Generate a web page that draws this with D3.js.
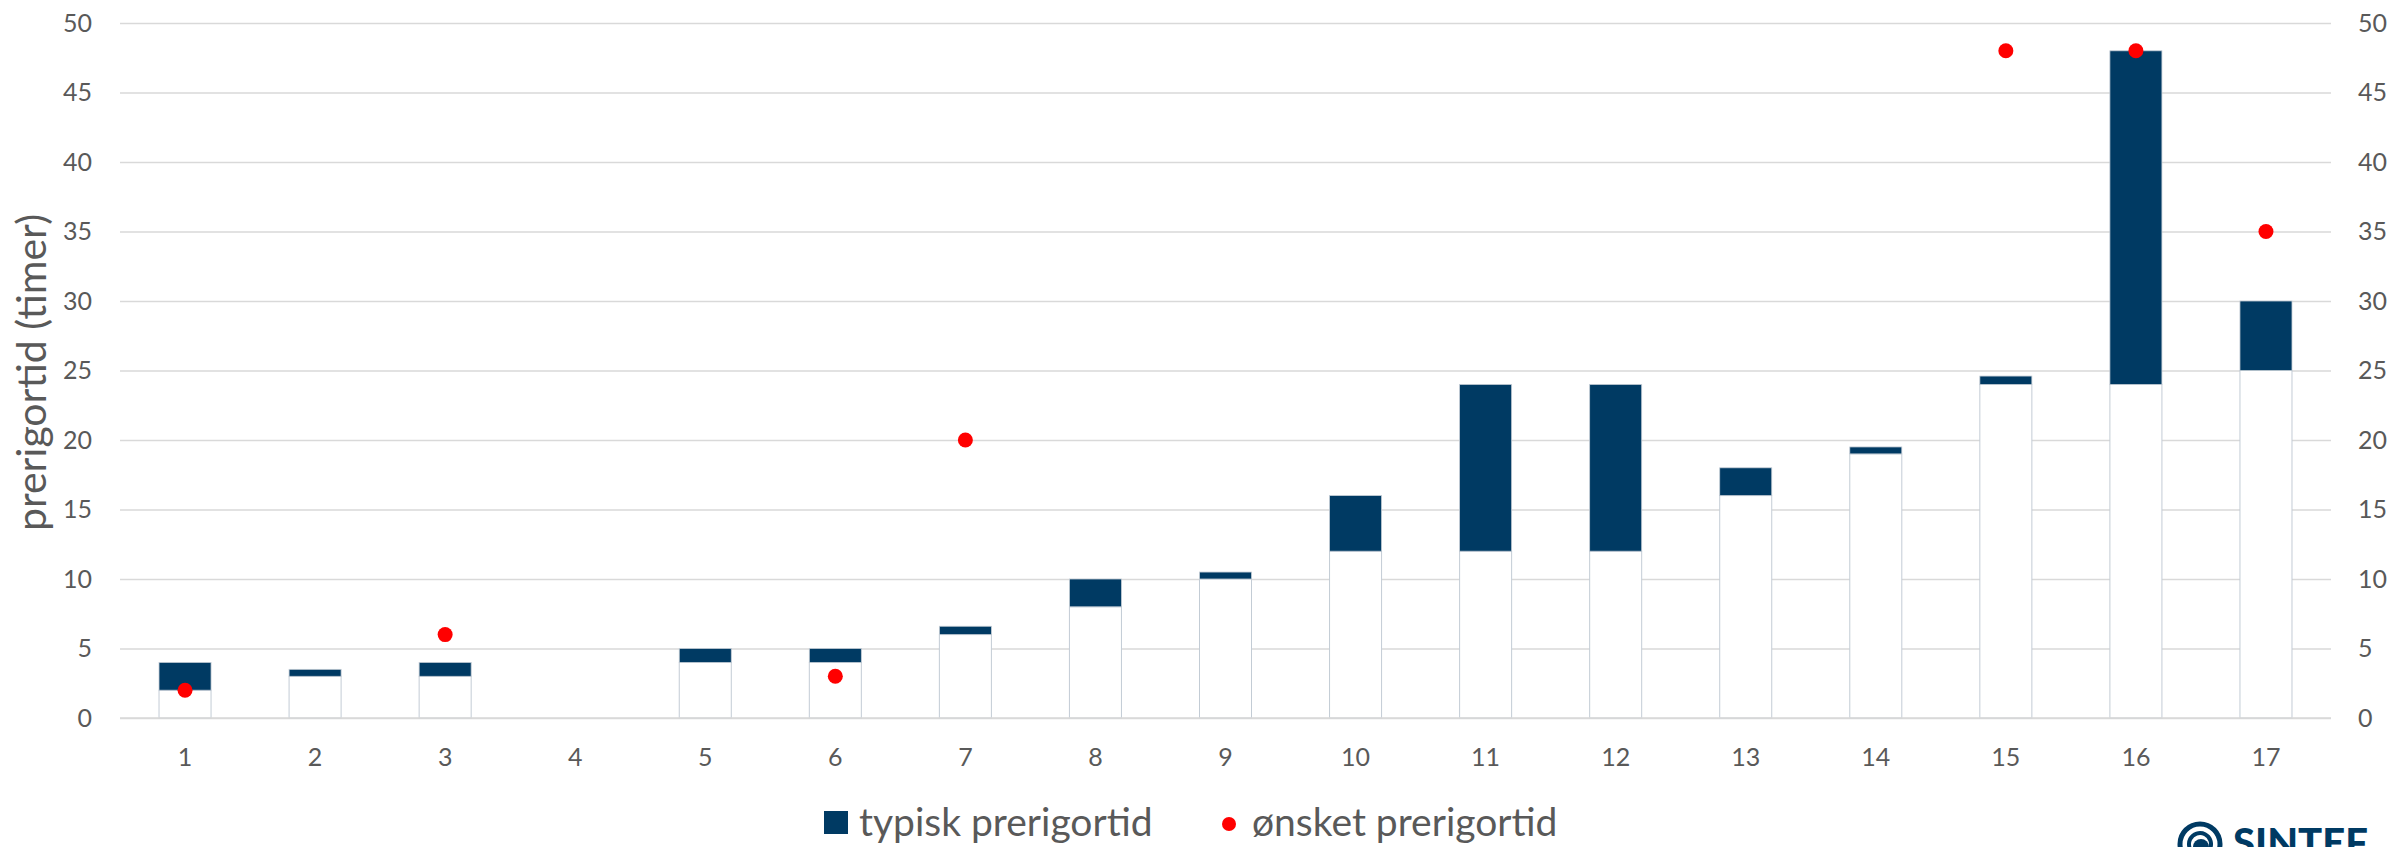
<!DOCTYPE html>
<html>
<head>
<meta charset="utf-8">
<script src="https://cdn.jsdelivr.net/npm/d3@7"></script>
<style>
  html, body { margin: 0; padding: 0; background: #fff; overflow: hidden; }
  svg { display: block; }
  text { font-family: Lato, "Open Sans", sans-serif; }
</style>
</head>
<body>
<svg id="chart" width="2392" height="847"></svg>
<script>
// ---- data ----
const categories = ["1","2","3","4","5","6","7","8","9","10","11","12","13","14","15","16","17"];
// invisible base (start of typical pre-rigor time)
const baseValues = [2, 3, 3, 0, 4, 4, 6, 8, 10, 12, 12, 12, 16, 19, 24, 24, 25];
// typical pre-rigor time span (stacked on base)
const typiskValues = [2, 0.5, 1, 0, 1, 1, 0.6, 2, 0.5, 4, 12, 12, 2, 0.5, 0.6, 24, 5];
// desired pre-rigor time
const onsketValues = [2, null, 6, null, null, 3, 20, null, null, null, null, null, null, null, 48, 48, 35];
const yTicks = [0, 5, 10, 15, 20, 25, 30, 35, 40, 45, 50];
const seriesNames = ["typisk prerigortid", "ønsket prerigortid"];
const yTitle = "prerigortid (timer)";

// ---- layout ----
const pLeft = 120, pRight = 2331, pTop = 23, pBottom = 718;
const navy = "#003A63", red = "#FF0000", grid = "#D9D9D9", txt = "#595959", edge = "#C3CCD5";

const svg = d3.select("#chart");
const x = d3.scaleBand().domain(categories).range([pLeft, pRight]).paddingInner(0.6).paddingOuter(0.3);
const y = d3.scaleLinear().domain([0, 50]).range([pBottom, pTop]);

// gridlines
const gridG = svg.append("g").attr("transform", `translate(${pLeft},0)`)
  .call(d3.axisLeft(y).tickValues(yTicks).tickSize(-(pRight - pLeft)).tickFormat(""));
gridG.select(".domain").remove();
gridG.selectAll("line").attr("stroke", grid).attr("stroke-width", 1.5);

const rows = categories.map((c, i) => ({ c, base: baseValues[i], span: typiskValues[i] }));

// base bars (white with light edge)
svg.append("g").selectAll("rect").data(rows.filter(d => d.base > 0)).join("rect")
  .attr("x", d => x(d.c))
  .attr("width", x.bandwidth())
  .attr("y", d => y(d.base))
  .attr("height", d => y(0) - y(d.base))
  .attr("fill", "#fff").attr("stroke", edge).attr("stroke-width", 1);

// typical bars
svg.append("g").selectAll("rect").data(rows.filter(d => d.span > 0)).join("rect")
  .attr("x", d => x(d.c))
  .attr("width", x.bandwidth())
  .attr("y", d => y(d.base + d.span))
  .attr("height", d => y(d.base) - y(d.base + d.span))
  .attr("fill", navy).attr("stroke", edge).attr("stroke-width", 0.8);

// baseline redraw
svg.append("line").attr("x1", pLeft).attr("x2", pRight).attr("y1", y(0)).attr("y2", y(0))
  .attr("stroke", grid).attr("stroke-width", 1.5);

// desired points
const pts = categories.map((c, i) => ({ c, v: onsketValues[i] })).filter(d => d.v != null);
svg.append("g").selectAll("circle").data(pts).join("circle")
  .attr("cx", d => x(d.c) + x.bandwidth() / 2)
  .attr("cy", d => y(d.v))
  .attr("r", 7.5)
  .attr("fill", red);

// axes
function styleAxis(g) {
  g.select(".domain").remove();
  g.selectAll("line").remove();
  g.selectAll("text").attr("fill", txt).style("font-size", "25px").style("font-family", "Lato, sans-serif");
}
svg.append("g").attr("transform", `translate(${pLeft},0)`)
  .call(d3.axisLeft(y).tickValues(yTicks).tickSize(0).tickPadding(28)).call(styleAxis);
svg.append("g").attr("transform", `translate(${pRight},0)`)
  .call(d3.axisRight(y).tickValues(yTicks).tickSize(0).tickPadding(27)).call(styleAxis);
svg.append("g").attr("transform", `translate(0,${pBottom})`)
  .call(d3.axisBottom(x).tickSize(0).tickPadding(30)).call(styleAxis);

// y title
svg.append("text")
  .attr("transform", `translate(46,${(pTop + pBottom) / 2 + 2}) rotate(-90)`)
  .attr("text-anchor", "middle")
  .attr("fill", txt)
  .style("font-size", "41px")
  .text(yTitle);

// legend
const lg = svg.append("g");
lg.append("rect").attr("x", 824).attr("y", 811).attr("width", 24).attr("height", 23).attr("fill", navy);
lg.append("text").attr("x", 859).attr("y", 836).attr("fill", txt).style("font-size", "39px").text(seriesNames[0]);
lg.append("circle").attr("cx", 1229).attr("cy", 824).attr("r", 7).attr("fill", red);
lg.append("text").attr("x", 1252).attr("y", 836).attr("fill", txt).style("font-size", "39px").text(seriesNames[1]);

// SINTEF logo (partially cut off at bottom, as in the reference)
const logo = svg.append("g");
logo.append("circle").attr("cx", 2200).attr("cy", 844).attr("r", 20).attr("fill", "none")
  .attr("stroke", navy).attr("stroke-width", 5);
logo.append("path").attr("d", d3.arc()({ innerRadius: 9, outerRadius: 13, startAngle: -Math.PI * 0.6, endAngle: Math.PI * 0.9 }))
  .attr("transform", "translate(2200,844)").attr("fill", navy);
logo.append("circle").attr("cx", 2201).attr("cy", 847).attr("r", 8).attr("fill", navy);
logo.append("text").attr("x", 2233).attr("y", 857).attr("fill", navy)
  .style("font-size", "40px").style("font-weight", "900").style("font-family", "Lato, 'DejaVu Sans', sans-serif")
  .text("SINTEF");
</script>
</body>
</html>
